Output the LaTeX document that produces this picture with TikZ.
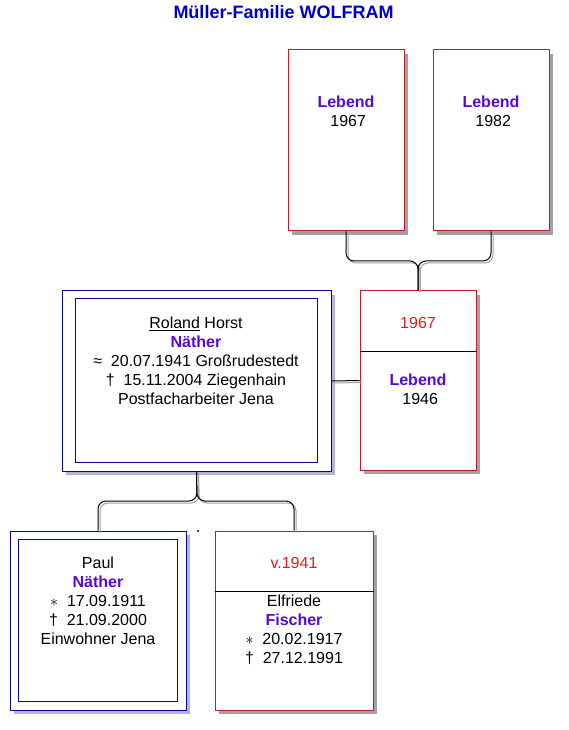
\documentclass[tikz,border=0pt]{standalone}
\usepackage{fontspec}
\setmainfont{Liberation Sans}
\usetikzlibrary{shadows,calc}
\definecolor{titleblue}{RGB}{0,0,205}
\definecolor{nameblue}{RGB}{85,10,220}
\definecolor{yearred}{RGB}{220,30,30}
\definecolor{boxred}{RGB}{190,30,40}
\definecolor{boxblue}{RGB}{10,10,150}
\definecolor{shade}{RGB}{160,160,165}
\newcommand{\nm}[1]{{\color{nameblue}\bfseries #1}}
\newcommand{\born}{$\ast$\ \ }
\newcommand{\died}{†\ \ }
\newcommand{\bapt}{≈\ \ }
\tikzset{
  wh/.style 2 args={minimum width=#1*0.75pt,minimum height=#2*0.75pt,inner sep=0pt},
  redbox/.style={draw=boxred,fill=white,line width=0.75pt,
    drop shadow={shadow xshift=3pt,shadow yshift=-3pt,fill=shade,opacity=1}},
  blueout/.style={draw=boxblue,fill=white,line width=0.75pt,
    drop shadow={shadow xshift=3pt,shadow yshift=-3pt,fill=shade!80!blue!60,opacity=1}},
  bluein/.style={draw=boxblue,line width=0.75pt},
  txt/.style={align=center,font=\fontsize{12}{14.25}\selectfont,inner sep=0pt},
  link/.style={draw=black,line width=0.75pt,rounded corners=6pt,
    preaction={draw=shade,line width=0.75pt,transform canvas={xshift=1.5pt,yshift=-1.5pt}}}
}
\begin{document}
\begin{tikzpicture}[x=0.75pt,y=-0.75pt]
\useasboundingbox (0,0) rectangle (568,730);
\node[font=\fontsize{13.5}{16}\selectfont\bfseries,text=titleblue] (title) at (283.5,12) {Müller-Familie WOLFRAM};
% connectors first, boxes on top
\coordinate (top) at (418,261);
\coordinate (low) at (197,501);
\node[redbox,wh={116}{181}] (kid1) at (346,140.5) {};
\node[redbox,wh={116}{181}] (kid2) at (491,140.5) {};
\node[redbox,wh={116}{179}] (wife) at (418,380.5) {};
\node[blueout,wh={269}{180}] (rol) at (196.5,381) {};
\node[bluein,wh={242}{163}] (rolin) at (196,380.5) {};
\node[blueout,wh={176}{179}] (paul) at (98,620.5) {};
\node[bluein,wh={159}{162}] (paulin) at (97.5,620) {};
\node[redbox,wh={158}{179}] (mum) at (294,620.5) {};
\draw ($(wife.north west)+(0,61)$) -- ($(wife.north east)+(0,61)$);
\draw ($(mum.north west)+(0,61)$) -- ($(mum.north east)+(0,61)$);
\draw[link] (kid1.south) |- (top) -- (wife.north);
\draw[link] (kid2.south) |- (top) -- (wife.north);
\draw[link] (rol.east) -- (wife.west);
\draw[link] (paul.north) |- (low) -- (rol.south);
\draw[link] (mum.north) |- (low) -- (rol.south);
\fill (198,531) circle[radius=0.8pt];
% texts
\node[txt] (t1) at (346,111.5) {\nm{Lebend}\\\ 1967};
\node[txt] (t2) at (491,111.5) {\nm{Lebend}\\\ 1982};
\node[txt,text=yearred] (wyear) at (418,323) {1967};
\node[txt] (wtxt) at (418,389.5) {\nm{Lebend}\\\ 1946};
\node[txt] (roltxt) at (196,361) {\underline{Roland} Horst\\\nm{Näther}\\\bapt 20.07.1941 Großrudestedt\\\died 15.11.2004 Ziegenhain\\Postfacharbeiter Jena};
\node[txt] (paultxt) at (98,601) {Paul\\\nm{Näther}\\\born 17.09.1911\\\died 21.09.2000\\Einwohner Jena};
\node[txt,text=yearred] (myear) at (294,563) {v.1941};
\node[txt] (mtxt) at (294,629.5) {Elfriede\\\nm{Fischer}\\\born 20.02.1917\\\died 27.12.1991};
\end{tikzpicture}
\end{document}
